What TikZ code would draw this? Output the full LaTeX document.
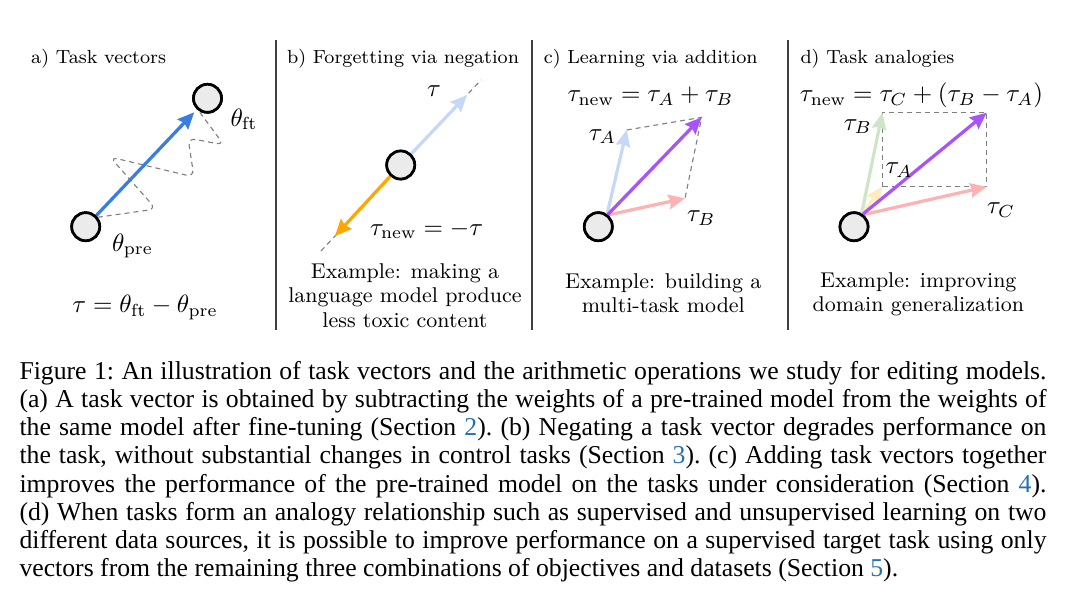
\documentclass[tikz,border=0pt]{standalone}
\usepackage{fontspec}
\newfontfamily\capfont{Liberation Serif}
\usetikzlibrary{arrows.meta}

\definecolor{vecblue}{RGB}{58,125,226}
\definecolor{paleblue}{RGB}{198,216,246}
\definecolor{vecorange}{RGB}{255,166,0}
\definecolor{vecpurple}{RGB}{168,84,250}
\definecolor{vecpink}{RGB}{255,178,178}
\definecolor{palegreen}{RGB}{208,228,202}
\definecolor{paleyellow}{RGB}{255,236,188}
\definecolor{reflink}{RGB}{34,113,178}

% строка подписи растягивается на всю ширину, как в журнальной вёрстке
\newcommand{\capline}[1]{\makebox[410.8pt][s]{#1}}

\begin{document}
\begin{tikzpicture}[x=0.4pt, y=-0.4pt,
  dot/.style={circle, draw=black, fill=black!8, line width=1.08pt, minimum size=11.2pt, inner sep=0pt},
  vec/.style={line width=1.3pt, -{Stealth[length=6.6pt, width=5.8pt, inset=0.8pt]}},
  guide/.style={gray, line width=0.45pt, dash pattern=on 2pt off 1.6pt},
  sep/.style={black!75, line width=0.6pt},
  ttl/.style={anchor=base west, inner sep=0pt, font=\fontsize{7.6}{9.2}\selectfont},
  expl/.style={anchor=base, inner sep=0pt, align=center, font=\fontsize{8.55}{9.76}\selectfont},
  mth/.style={inner sep=0pt, font=\fontsize{10}{12}\selectfont}]

\useasboundingbox (0,0) rectangle (1077,613);

% разделители панелей
\foreach \x in {276,532,788}
  \draw[sep] (\x,40) -- (\x,330);

% ---------- (a) вектор задачи
\node[ttl] (aTitle) at (30.7,63.3) {a) Task vectors};
\node[dot] (aPre) at (85.7,226.7) {};
\node[dot] (aFt)  at (207.5,98.3) {};
% путь дообучения: ломаная со скруглёнными изломами
\draw[guide, rounded corners=3pt] (aPre.38) -- (156,209) -- (110,157) -- (194,177)
  -- (188,138) -- (224,145) -- (aFt.235);
\draw[vec, vecblue, shorten >=1.6pt] (aPre) -- (aFt);
\node[dot] at (aPre) {};
\node[dot] at (aFt) {};
\node[mth, anchor=base west] (aFtLbl)  at (230,126) {$\theta_{\mathrm{ft}}$};
\node[mth, anchor=base west] (aPreLbl) at (111.7,251) {$\theta_{\mathrm{pre}}$};
\node[mth, anchor=base] (aEq) at (145,312.7) {$\tau = \theta_{\mathrm{ft}} - \theta_{\mathrm{pre}}$};

% ---------- (b) отрицание
\node[ttl] (bTitle) at (286.7,63.3) {b) Forgetting via negation};
\coordinate (bFar)  at (481,80);
\coordinate (bNear) at (321,251);
\coordinate (bTau)  at (467,95);
\coordinate (bNeg)  at (335,236);
\node[dot] (bO) at (400.7,165) {};
\draw[guide] (bNear) -- (bFar);
\draw[vec, paleblue] (bO) -- (bTau);
\draw[vec, vecorange] (bO) -- (bNeg);
\node[dot] at (bO) {};
\node[mth, anchor=base] (bTauLbl) at (434,96.7) {$\tau$};
\node[mth, anchor=base] (bNegLbl) at (426.7,235) {$\tau_{\mathrm{new}} = -\tau$};
% у многострочного узла base --- строка последняя
\node[expl] (bText) at (405,327.1) {Example: making a\\language model produce\\less toxic content};

% ---------- (c) сложение
\node[ttl] (cTitle) at (543.3,63.3) {c) Learning via addition};
\node[mth, anchor=base] (cEq) at (650.5,101.7) {$\tau_{\mathrm{new}} = \tau_A + \tau_B$};
\node[dot] (cO) at (598.3,226.7) {};
\coordinate (cA)   at (626.7,130);
\coordinate (cB)   at (685,198.3);
\coordinate (cSum) at (701.7,117.3);
\draw[guide] (cA) -- (cSum) -- (cB);
\draw[vec, paleblue]   (cO.55) -- (cA);
\draw[vec, vecpink]    (cO.50) -- (cB);
\draw[vec, vecpurple]  (cO.52) -- (cSum);
\node[dot] at (cO) {};
\node[mth, anchor=base west] (cALbl) at (588.3,140) {$\tau_A$};
\node[mth, anchor=base west] (cBLbl) at (686.7,221.7) {$\tau_B$};
\node[expl] (cText) at (663.3,312.7) {Example: building a\\multi-task model};

% ---------- (d) аналогии
\node[ttl] (dTitle) at (800,63.3) {d) Task analogies};
\node[mth, anchor=base] (dEq) at (921.5,101.7) {$\tau_{\mathrm{new}} = \tau_C + (\tau_B - \tau_A)$};
\node[dot] (dO) at (854,226.7) {};
\coordinate (dB)   at (882.3,112.7);
\coordinate (dA)   at (882.3,186.7);
\coordinate (dC)   at (986.7,186.7);
\coordinate (dSum) at (986.7,112.7);
\draw[guide] (dA) -- (dB) -- (dSum) -- (dC) -- cycle;
\draw[vec, palegreen]  (dO.60) -- (dB);
\draw[vec, paleyellow] (dO.57) -- (dA);
\draw[vec, vecpink]    (dO.52) -- (dC);
\draw[vec, vecpurple]  (dO.55) -- (dSum);
\node[dot] at (dO) {};
\node[mth, anchor=base west] (dBLbl) at (843.3,130) {$\tau_B$};
\node[mth, anchor=base west] (dALbl) at (885,173.3) {$\tau_A$};
\node[mth, anchor=base west] (dCLbl) at (986.7,213.3) {$\tau_C$};
\node[expl] (dText) at (918.3,311.4) {Example: improving\\domain generalization};

% ---------- подпись (base --- по последней строке)
\node[anchor=base west, inner sep=0pt, align=left,
      font=\capfont\fontsize{10.29}{11.28}\selectfont\frenchspacing] (caption) at (19,576.7) {%
\capline{Figure 1: An illustration of task vectors and the arithmetic operations we study for editing models.}\\
\capline{(a) A task vector is obtained by subtracting the weights of a pre-trained model from the weights of}\\
\capline{the same model after fine-tuning (Section \textcolor{reflink}{2}). (b) Negating a task vector degrades performance on}\\
\capline{the task, without substantial changes in control tasks (Section \textcolor{reflink}{3}). (c) Adding task vectors together}\\
\capline{improves the performance of the pre-trained model on the tasks under consideration (Section \textcolor{reflink}{4}).}\\
\capline{(d) When tasks form an analogy relationship such as supervised and unsupervised learning on two}\\
\capline{different data sources, it is possible to improve performance on a supervised target task using only}\\
vectors from the remaining three combinations of objectives and datasets (Section \textcolor{reflink}{5}).};
\end{tikzpicture}
\end{document}
